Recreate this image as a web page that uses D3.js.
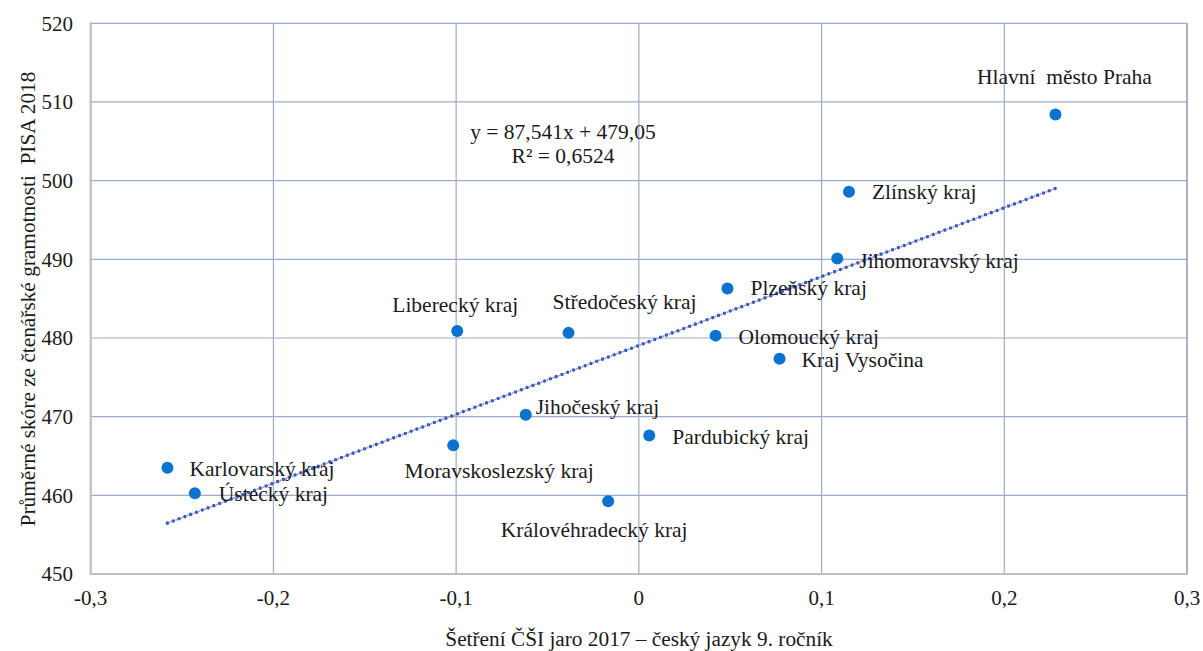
<!DOCTYPE html>
<html><head><meta charset="utf-8">
<script src="https://cdn.jsdelivr.net/npm/d3@7"></script>
<style>
html,body{margin:0;padding:0;background:#fff;}
text{font-family:"Liberation Serif","Times New Roman",serif;fill:#1a1a1a;}
</style></head>
<body><svg id="chart" width="1203" height="651"></svg>
<script>
const regions = ["Hlavní  město Praha","Zlínský kraj","Jihomoravský kraj","Plzeňský kraj","Olomoucký kraj","Kraj Vysočina","Liberecký kraj","Středočeský kraj","Jihočeský kraj","Pardubický kraj","Moravskoslezský kraj","Královéhradecký kraj","Karlovarský kraj","Ústecký kraj"];
const csiScores = [0.228,0.115,0.1086,0.0485,0.042,0.077,-0.0994,-0.0385,-0.0619,0.0057,-0.1016,-0.0168,-0.258,-0.243];
const pisaScores = [508.4,498.6,490.1,486.3,480.3,477.35,480.9,480.65,470.25,467.6,466.35,459.25,463.5,460.25];
const xTicks = [-0.3,-0.2,-0.1,0,0.1,0.2,0.3];
const yTicks = [450,460,470,480,490,500,510,520];
const trendSlope = 87.541, trendIntercept = 479.05;
const equationLines = ["y = 87,541x + 479,05","R² = 0,6524"];
const xTitle = "Šetření ČŠI jaro 2017 – český jazyk 9. ročník";
const yTitle = "Průměrné skóre ze čtenářské gramotnosti  PISA 2018";

// label placement (style, not data)
const labelLayout = [
  ["middle",9,-31],["start",23,7],["start",22,9],["start",23,7],["start",23,8],["start",22,8],
  ["middle",-2,-19],["middle",56,-24],["start",10,-1],["start",23,8],["middle",46,33],["middle",-14,36],
  ["start",22,8],["start",24,8]
];

const svg = d3.select("#chart");
const L = 90.7, T = 23.3, R = 1187, B = 574;
const x = d3.scaleLinear().domain([-0.3,0.3]).range([L,R]);
const y = d3.scaleLinear().domain([450,520]).range([B,T]);
const fmt = d => d === 0 ? "0" : String(d).replace(".", ",");

// gridlines
const g = svg.append("g");
g.selectAll(".vg").data(xTicks.slice(1)).join("line")
  .attr("x1",d=>x(d)).attr("x2",d=>x(d)).attr("y1",T).attr("y2",B)
  .attr("stroke", (d,i)=> i===xTicks.length-2 ? "#a7b3c9" : "#9dabc6").attr("stroke-width",(d,i)=> i===xTicks.length-2 ? 2 : 1.2);
g.selectAll(".hg").data(yTicks.slice(1)).join("line")
  .attr("x1",L).attr("x2",R).attr("y1",d=>y(d)).attr("y2",d=>y(d))
  .attr("stroke","#9dabc6").attr("stroke-width",1.2);
// axes lines
g.append("line").attr("x1",L).attr("x2",L).attr("y1",T-1).attr("y2",B+1).attr("stroke","#bfbfbf").attr("stroke-width",2.2);
g.append("line").attr("x1",L-1).attr("x2",R+1).attr("y1",B).attr("y2",B).attr("stroke","#bfbfbf").attr("stroke-width",2.2);

// tick labels
svg.append("g").selectAll("text").data(yTicks).join("text")
  .attr("x",73).attr("y",d=>y(d)).attr("dy","0.35em").attr("text-anchor","end")
  .style("font-size","21px").text(d=>d);
svg.append("g").selectAll("text").data(xTicks).join("text")
  .attr("x",d=>x(d)).attr("y",605).attr("text-anchor","middle")
  .style("font-size","21px").text(fmt);

// titles
svg.append("text").attr("x",639).attr("y",646).attr("text-anchor","middle")
  .style("font-size","21.3px").text(xTitle);
svg.append("text").attr("transform","translate(35,299) rotate(-90)").attr("text-anchor","middle")
  .style("font-size","21.3px").style("white-space","pre").attr("xml:space","preserve").text(yTitle);

// trendline
const x0 = d3.min(csiScores), x1 = d3.max(csiScores);
const tl = [[x0, trendSlope*x0+trendIntercept],[x1, trendSlope*x1+trendIntercept]];
const line = d3.line().x(d=>x(d[0])).y(d=>y(d[1]));
svg.append("path").attr("d",line(tl)).attr("fill","none").attr("stroke","#d27a98")
  .attr("stroke-width",1.8).attr("stroke-linecap","round").attr("stroke-dasharray","0,6.2").attr("stroke-dashoffset",3.1);
svg.append("path").attr("d",line(tl)).attr("fill","none").attr("stroke","#2d5ec6")
  .attr("stroke-width",3.6).attr("stroke-linecap","round").attr("stroke-dasharray","0,6.2");

// equation
svg.append("g").selectAll("text").data(equationLines).join("text")
  .attr("x",563).attr("y",(d,i)=>139+i*24).attr("text-anchor","middle")
  .style("font-size","21.5px").text(d=>d);

// points
const idx = d3.range(regions.length);
svg.append("g").selectAll("circle").data(idx).join("circle")
  .attr("cx",i=>x(csiScores[i])).attr("cy",i=>y(pisaScores[i])).attr("r",6)
  .attr("fill","#0a72cf");

// labels
svg.append("g").selectAll("text").data(idx).join("text")
  .attr("x",i=>x(csiScores[i])+labelLayout[i][1]).attr("y",i=>y(pisaScores[i])+labelLayout[i][2])
  .attr("text-anchor",i=>labelLayout[i][0]).style("font-size","21.5px")
  .style("white-space","pre").attr("xml:space","preserve")
  .text(i=>regions[i]);
</script></body></html>
